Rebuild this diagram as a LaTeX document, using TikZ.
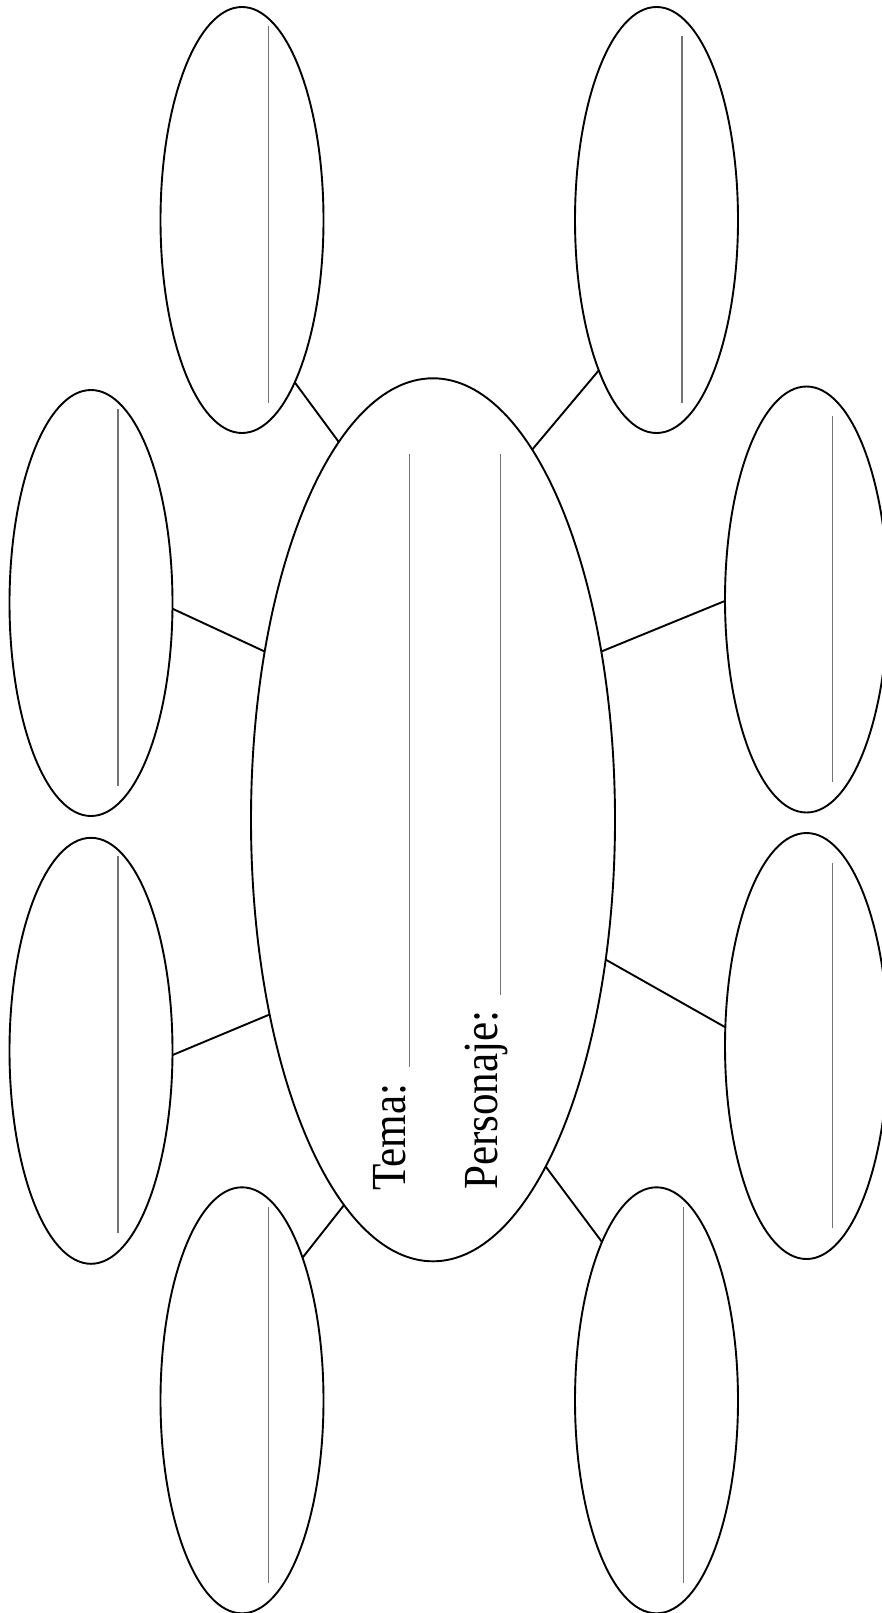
\documentclass[tikz,border=0pt]{standalone}
\usepackage{graphicx}
\usepackage{fontspec}
\setmainfont{Liberation Serif}
\usetikzlibrary{shapes.geometric}
\begin{document}
\begin{tikzpicture}[x=1pt,y=-1pt,
  bubble/.style={ellipse,draw=black,line width=1.9pt,inner sep=0pt,outer sep=0pt,minimum width=163pt,minimum height=426pt},
  hub/.style={ellipse,draw=black,line width=1.9pt,inner sep=0pt,outer sep=0pt,minimum width=364pt,minimum height=883pt},
  link/.style={draw=black,line width=1.9pt},
  writeline/.style={draw=black!55,line width=1.5pt},
  label/.style={rotate=90,anchor=base west,inner sep=0pt,font=\fontsize{49}{56}\selectfont}]
\useasboundingbox (0,0) rectangle (882,1613);
% central ellipse
\node[hub] (c) at (433,819.8) {};
% outer ellipses
\node[bubble] (tl) at (242,220) {};
\node[bubble] (tr) at (656.5,220) {};
\node[bubble] (lu) at (91,603) {};
\node[bubble] (ru) at (806.5,599.5) {};
\node[bubble] (ll) at (91,1050.8) {};
\node[bubble] (rl) at (806.5,1046) {};
\node[bubble] (bl) at (242,1400.3) {};
\node[bubble] (br) at (656.5,1400.3) {};
% connectors
\draw[link] (c.104.3) -- (tl.-72.2);
\draw[link] (c.75.3) -- (tr.-111.2);
\draw[link] (c.135.4) -- (lu.-4.5);
\draw[link] (c.45) -- (ru.-179.2);
\draw[link] (c.-130.5) -- (ll.-3.6);
\draw[link] (c.-39.2) -- (rl.167.8);
\draw[link] (c.-103.5) -- (bl.67.6);
\draw[link] (c.-72.2) -- (br.109.4);
% writing lines in outer ellipses
\draw[writeline] (268.3,26) -- (268.3,402.7);
\draw[writeline] (682.2,36) -- (682.2,402.7);
\draw[writeline] (118.1,409.3) -- (118.1,786);
\draw[writeline] (832.4,416) -- (832.4,781.7);
\draw[writeline] (118.1,856) -- (118.1,1232.7);
\draw[writeline] (832.4,862.7) -- (832.4,1228.3);
\draw[writeline] (268.3,1207.3) -- (268.3,1583);
\draw[writeline] (683.3,1207.3) -- (683.3,1583);
% labels in central ellipse
\node[label] (tema) at (405,1191) {\scalebox{0.88}[1]{Tema:}};
\node[label] (pers) at (497.5,1190) {\scalebox{0.88}[1]{Personaje:}};
\coordinate (temaend) at (409.3,454);
\coordinate (persend) at (500.7,454);
\draw[writeline] (409.3,1066.7) -- (temaend);
\draw[writeline] (500.7,995) -- (persend);
\end{tikzpicture}
\end{document}
